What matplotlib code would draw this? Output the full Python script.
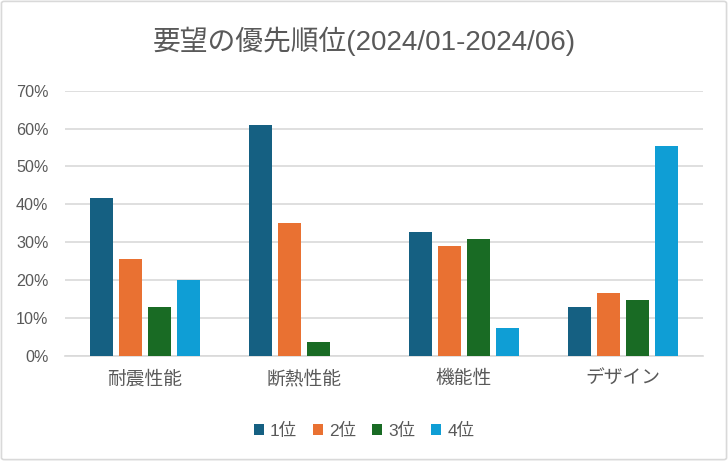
import matplotlib.pyplot as plt
import numpy as np
from matplotlib.patches import FancyBboxPatch

# 英数字は Liberation Sans、日本語は Noto Sans CJK JP
plt.rcParams['font.family'] = ['Liberation Sans', 'Noto Sans CJK JP', 'DejaVu Sans']

# データ
categories = ['耐震性能', '断熱性能', '機能性', 'デザイン']
series_names = ['1位', '2位', '3位', '4位']
rank1 = [41.7, 60.9, 32.7, 12.8]
rank2 = [25.5, 35.0, 29.0, 16.5]
rank3 = [12.9, 3.6, 30.8, 14.6]
rank4 = [20.0, 0.0, 7.3, 55.3]
colors = ['#156082', '#E97132', '#196B24', '#0F9ED5']
yticks = [0, 10, 20, 30, 40, 50, 60, 70]

text_color = '#595959'
grid_color = '#D9D9D9'

fig = plt.figure(figsize=(7.28, 4.61), dpi=100)
ax = fig.add_axes([0.0893, 0.2284, 0.8764, 0.5749])

# 枠線
fig.patches.append(FancyBboxPatch((0.002, 0.003), 0.996, 0.994,
                                  boxstyle='round,pad=0,rounding_size=0.004',
                                  transform=fig.transFigure, facecolor='none',
                                  edgecolor=grid_color, linewidth=1.2))

x = np.arange(len(categories))
slot = 0.182
width = 0.144
for i, (vals, name) in enumerate(zip([rank1, rank2, rank3, rank4], series_names)):
    offs = (i - 1.5) * slot
    ax.bar(x + offs, vals, width=width, color=colors[i], label=name, zorder=3)

ax.set_xlim(-0.5, len(categories) - 0.5)
ax.set_ylim(0, 70)
ax.set_yticks(yticks)
ax.set_yticklabels([f'{v}%' for v in yticks])
ax.set_xticks(x)
ax.set_xticklabels(categories)
ax.tick_params(axis='both', length=0, colors=text_color)
ax.tick_params(axis='x', pad=11, labelsize=13.5)
ax.tick_params(axis='y', pad=12, labelsize=11.6)
ax.grid(axis='y', color=grid_color, linewidth=1.2, zorder=0)
for s in ['top', 'right', 'left']:
    ax.spines[s].set_visible(False)
ax.spines['bottom'].set_color(grid_color)
ax.spines['bottom'].set_linewidth(1.2)

fig.text(0.5, 0.91, '要望の優先順位(2024/01-2024/06)', ha='center', va='center',
         fontsize=20, color=text_color)

fig.legend(loc='center', bbox_to_anchor=(0.5, 0.066), ncol=4, frameon=False,
           fontsize=12.5, labelcolor=text_color, handlelength=0.6, handleheight=0.6,
           handletextpad=0.35, columnspacing=0.9)

fig.savefig('out.png', dpi=100)
